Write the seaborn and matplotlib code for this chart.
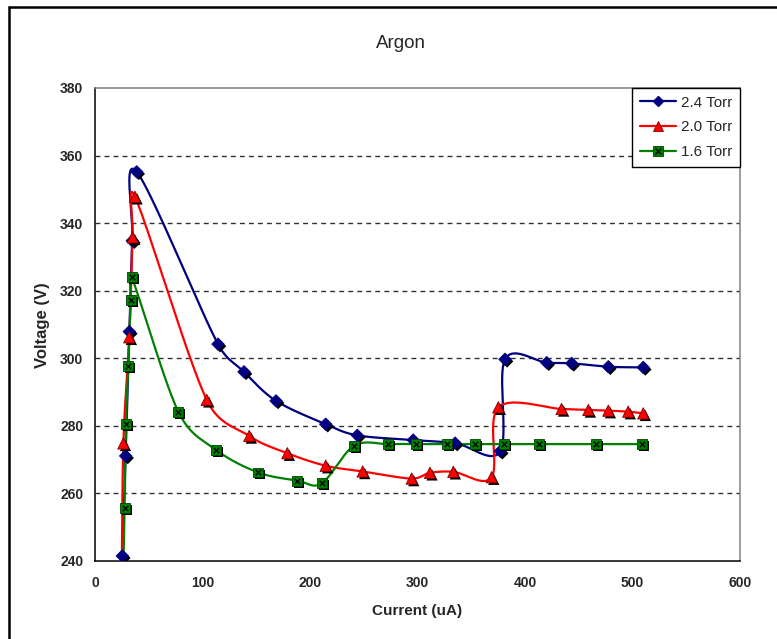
import numpy as np
import matplotlib
matplotlib.use("Agg")
import matplotlib.pyplot as plt
import matplotlib.patheffects as pe
from matplotlib.lines import Line2D
from matplotlib.legend_handler import HandlerTuple
import seaborn as sns

# ---------------- data ----------------
labels = ["2.4 Torr", "2.0 Torr", "1.6 Torr"]

x_24 = [25.4, 28.5, 31.9, 34.7, 38.8, 114.4, 138.6, 168.4, 214.6, 244.0,
        296.0, 335.0, 377.0, 381.4, 420.2, 443.4, 477.5, 510.0]
y_24 = [241.5, 271.1, 307.9, 334.8, 355.2, 304.2, 296.0, 287.4, 280.5, 277.2,
        275.8, 274.9, 272.5, 299.7, 298.7, 298.5, 297.5, 297.3]

x_20 = [24.8, 26.4, 31.9, 35.0, 37.2, 103.9, 143.5, 178.9, 214.6, 249.0,
        294.6, 311.6, 333.3, 369.0, 375.2, 434.0, 458.9, 477.5, 496.0, 510.0]
y_20 = [232.0, 274.8, 306.2, 335.8, 347.8, 287.7, 277.0, 271.9, 268.2, 266.5,
        264.4, 266.1, 266.4, 264.8, 285.5, 285.0, 284.7, 284.5, 284.2, 283.7]

x_16 = [25.8, 27.6, 28.8, 31.0, 33.2, 34.1, 77.5, 112.6, 151.9, 188.2,
        210.9, 241.0, 272.8, 298.6, 327.1, 353.5, 380.5, 413.3, 466.2, 508.6]
y_16 = [228.0, 255.8, 280.6, 297.7, 317.3, 324.0, 284.2, 272.9, 266.2, 263.8,
        263.0, 274.1, 274.6, 274.6, 274.6, 274.6, 274.6, 274.6, 274.6, 274.6]

x_ticks = [0, 100, 200, 300, 400, 500, 600]
y_ticks = [240, 260, 280, 300, 320, 340, 360, 380]

W, H = 777, 639
# pixel scale of the plot area (used only for the smoothing weights)
SX = (740 - 95) / 600.0
SY = (561 - 88) / 140.0


def excel_smooth(x, y, n=40):
    """Excel-style smoothed line: Bezier segments, 1/6 tension,
    control arm capped at half the segment length."""
    pts = np.column_stack([x, y]).astype(float)
    scale = np.array([SX, SY])
    N = len(pts)
    t = np.linspace(0, 1, n)[:, None]

    def dist(a, b):
        return float(np.hypot(*((a - b) * scale)))

    out = []
    for i in range(N - 1):
        p1, p2 = pts[i], pts[i + 1]
        p0 = pts[i - 1] if i > 0 else p1
        p3 = pts[i + 2] if i + 2 < N else p2
        d12 = dist(p1, p2)
        d02 = dist(p0, p2)
        d13 = dist(p1, p3)
        f0 = 1 / 6.0 if d02 / 6.0 < d12 / 2.0 else d12 / (2.0 * d02)
        f1 = 1 / 6.0 if d13 / 6.0 < d12 / 2.0 else d12 / (2.0 * d13)
        c1 = p1 + (p2 - p0) * f0
        c2 = p2 - (p3 - p1) * f1
        b = ((1 - t) ** 3) * p1 + 3 * ((1 - t) ** 2) * t * c1 + 3 * (1 - t) * t ** 2 * c2 + t ** 3 * p2
        out.append(b if i == 0 else b[1:])
    s = np.vstack(out)
    return s[:, 0], s[:, 1]


sns.set_style("white")
plt.rcParams["font.family"] = ["Liberation Sans", "DejaVu Sans"]

fig = plt.figure(figsize=(7.77, 6.39), dpi=100)
ax = fig.add_axes([95 / W, 1 - 561 / H, (740 - 95) / W, (561 - 88) / H])

navy = "#000080"
red = "#FF0000"
green = "#008000"

series = [
    (x_24, y_24, navy, "D", 40, navy),
    (x_20, y_20, red, "^", 66, "#800000"),
    (x_16, y_16, green, "s", 50, "#004000"),
]

shadow = [pe.SimplePatchShadow(offset=(1.5, -1.5), shadow_rgbFace="black", alpha=1.0), pe.Normal()]

for xs, ys, col, mk, sz, ec in series:
    sx, sy = excel_smooth(xs, ys)
    sns.lineplot(x=sx, y=sy, sort=False, estimator=None, color=col, lw=1.6, ax=ax, zorder=3)

for xs, ys, col, mk, sz, ec in series:
    sns.scatterplot(x=xs, y=ys, marker=mk, s=sz, color=col, edgecolor=ec, linewidth=0.6,
                    ax=ax, zorder=4, path_effects=shadow)
    if mk == "s":
        sns.scatterplot(x=xs, y=ys, marker="x", s=16, color="black", linewidth=0.9, ax=ax, zorder=5)

ax.set_xlim(0, 600)
ax.set_ylim(240, 380)
ax.set_xticks(x_ticks)
ax.set_yticks(y_ticks)

for v in y_ticks[1:-1]:
    ax.axhline(v, color="#303030", lw=1.0, ls=(0, (3.5, 3)), zorder=1)

for side in ["left", "bottom"]:
    ax.spines[side].set_color("black")
    ax.spines[side].set_linewidth(1.1)
for side in ["top", "right"]:
    ax.spines[side].set_color("#808080")
    ax.spines[side].set_linewidth(1.1)

ax.tick_params(axis="both", direction="out", length=4.5, width=1, color="black",
               labelsize=10)
ax.tick_params(axis="x", pad=6)
ax.tick_params(axis="y", pad=4)
for lab in ax.get_xticklabels() + ax.get_yticklabels():
    lab.set_fontweight("bold")

ax.set_xlabel("")
ax.set_ylabel("")
fig.text(417 / W, 1 - 611 / H, "Current (uA)", ha="center", va="center", fontsize=11, fontweight="bold")
fig.text(43 / W, 1 - 325 / H, "Voltage (V)", ha="center", va="center", rotation=90, fontsize=12, fontweight="bold")
fig.text(401 / W, 1 - 44 / H, "Argon", ha="center", va="center", fontsize=13.5)

# legend
h1 = Line2D([], [], color=navy, lw=1.6, marker="D", ms=5.5, mfc=navy, mec=navy)
h2 = Line2D([], [], color=red, lw=1.6, marker="^", ms=7.5, mfc=red, mec="#800000", mew=0.6)
h3a = Line2D([], [], color=green, lw=1.6, marker="s", ms=7, mfc=green, mec="#004000", mew=0.6)
h3b = Line2D([], [], color="black", lw=0, marker="x", ms=4, mew=0.9)
leg = ax.legend([h1, h2, (h3a, h3b)], labels, loc="upper right", bbox_to_anchor=(1.0, 1.0),
                borderaxespad=0, frameon=True, fancybox=False, framealpha=1,
                edgecolor="black", fontsize=11, handlelength=2.4, handletextpad=0.3,
                labelspacing=0.7, borderpad=0.5,
                handler_map={tuple: HandlerTuple(ndivide=1)})
leg.get_frame().set_linewidth(1.0)

# chart-area frame (left and top edges visible in the crop)
fig.add_artist(Line2D([9 / W, 9 / W], [0, 1 - 7 / H], transform=fig.transFigure, color="black", lw=1.8))
fig.add_artist(Line2D([9 / W, 1], [1 - 7 / H, 1 - 7 / H], transform=fig.transFigure, color="black", lw=1.8))

fig.savefig("out.png", dpi=100)
